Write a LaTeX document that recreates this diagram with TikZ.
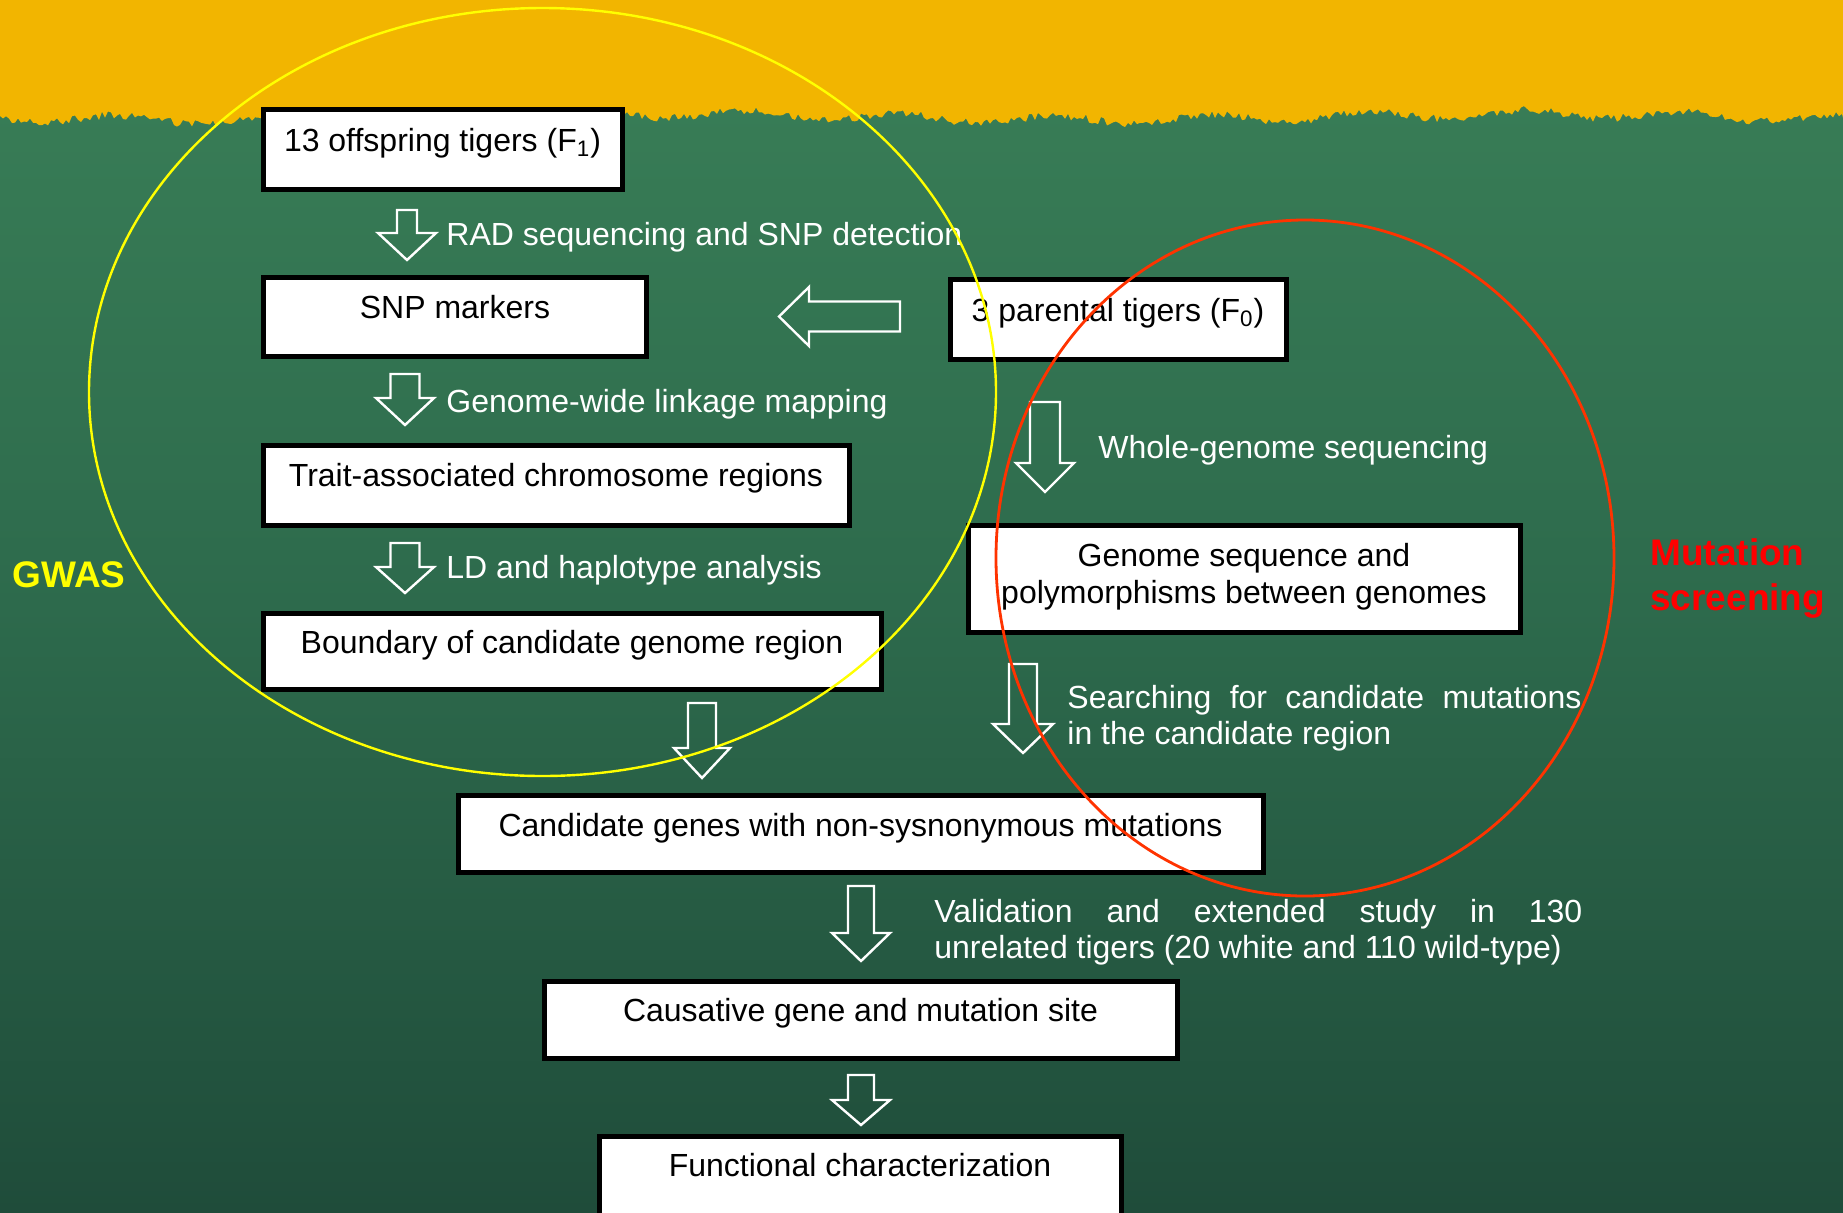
\documentclass[tikz,border=0pt]{standalone}
\usepackage{fontspec}
\setmainfont{Liberation Sans}
\usetikzlibrary{fit}
\definecolor{gold}{HTML}{F2B500}
\definecolor{gtop}{HTML}{3A8058}
\definecolor{gmid}{HTML}{2D6A4C}
\definecolor{gbot}{HTML}{1F4C3A}
\definecolor{ellred}{HTML}{FF3300}
\definecolor{gwasyellow}{HTML}{FFFF00}
\definecolor{mutred}{HTML}{FF0000}
\newcommand\downblk[6]{%
  \draw[blk] (#1-#5,#2) -- (#1+#5,#2) -- (#1+#5,#3) -- (#1+#6,#3) -- (#1,#4) -- (#1-#6,#3) -- (#1-#5,#3) -- cycle;}
\begin{document}
\begin{tikzpicture}[x=0.5pt,y=-0.5pt,
  box/.style={draw=black, line width=2.5pt, fill=white, inner sep=0pt},
  btxt/.style={anchor=base, inner sep=0pt, font=\fontsize{16pt}{19pt}\selectfont, text=black},
  wtxt/.style={anchor=base west, inner sep=0pt, font=\fontsize{16pt}{19pt}\selectfont, text=white},
  blk/.style={draw=white, line width=1.2pt, line join=miter},
  bigl/.style={anchor=base west, inner sep=0pt, font=\fontsize{18.5pt}{22pt}\selectfont\bfseries},
]
\useasboundingbox (0,0) rectangle (1843,1212);
\begin{scope}
\clip (0,0) rectangle (1843,1212);
% background
\shade[top color=gtop, bottom color=gbot, middle color=gmid] (0,0) rectangle (1843,1212);
\pgfmathsetseed{7}
\fill[gold] (0,0) -- (0,116) foreach \x in {3,6,...,1842} { -- (\x,{117+4*sin(\x*2.3)+3*sin(\x*0.41)+4*rand}) } -- (1843,118) -- (1843,0) -- cycle;

% boxes
\node[box, fit={(263,109) (622,189)}] (b1) {};
\node[box, fit={(263,277) (646,356)}] (b2) {};
\node[box, fit={(950,279) (1286,359)}] (bF0) {};
\node[box, fit={(263,445) (849,525)}] (b3) {};
\node[box, fit={(263,613) (881,689)}] (b4) {};
\node[box, fit={(968,525) (1520,632)}] (bG) {};
\node[box, fit={(458,795) (1263,872)}] (bC) {};
\node[box, fit={(544,981) (1177,1058)}] (bCa) {};
\node[box, fit={(599,1136) (1121,1240)}] (bF) {};

% box texts
\node[btxt] (t1) at (442.5,151) {13 offspring tigers (F\textsubscript{1})};
\node[btxt] (t2) at (455,318) {SNP markers};
\node[btxt] (tF0) at (1118,321) {3 parental tigers (F\textsubscript{0})};
\node[btxt] (t3) at (556,486) {Trait-associated chromosome regions};
\node[btxt] (t4) at (572,653) {Boundary of candidate genome region};
\node[btxt] (tG1) at (1244,566) {Genome sequence and};
\node[btxt] (tG2) at (1244,603) {polymorphisms between genomes};
\node[btxt] (tC) at (860.5,836) {Candidate genes with non-sysnonymous mutations};
\node[btxt] (tCa) at (860.5,1021) {Causative gene and mutation site};
\node[btxt] (tF) at (860,1176) {Functional characterization};

% block arrows
\downblk{407}{210}{233}{260}{10}{29}
\downblk{405}{374}{398}{425}{14.5}{29}
\downblk{405}{543}{567}{593}{14.5}{29}
\downblk{702}{703}{748}{778}{14}{28}
\downblk{1045}{402}{463}{492}{15}{29}
\downblk{1023}{664}{724}{753}{14}{30}
\downblk{861}{886}{933}{961}{13}{29}
\downblk{861}{1075}{1100}{1125}{13}{29}
\draw[blk] (900,301.5) -- (809,301.5) -- (809,287) -- (779,316.5) -- (809,346) -- (809,331.5) -- (900,331.5) -- cycle;

% white labels
\node[wtxt] (l1) at (446,245) {RAD sequencing and SNP detection};
\node[wtxt] (l2) at (446,412) {Genome-wide linkage mapping};
\node[wtxt] (l3) at (446,578) {LD and haplotype analysis};
\node[wtxt] (l4) at (1098,458) {Whole-genome sequencing};
\node[wtxt] (l5a) at (1067,708) {\makebox[257pt][s]{Searching for candidate mutations}};
\node[wtxt] (l5b) at (1067,744) {in the candidate region};
\node[wtxt] (l6a) at (934,922) {\makebox[324pt][s]{Validation and extended study in 130}};
\node[wtxt] (l6b) at (934,958) {unrelated tigers (20 white and 110 wild-type)};

% group labels
\node[bigl, text=gwasyellow] (gwas) at (12,587) {GWAS};
\node[bigl, text=mutred] (mut1) at (1650,565) {Mutation};
\node[bigl, text=mutred] (mut2) at (1650,610) {screening};

% ellipses
\draw[gwasyellow, line width=1.2pt] (542.5,392) ellipse [x radius=453.5, y radius=384];
\draw[ellred, line width=1.4pt] (1305,558) ellipse [x radius=309, y radius=338];
\end{scope}
\end{tikzpicture}
\end{document}
